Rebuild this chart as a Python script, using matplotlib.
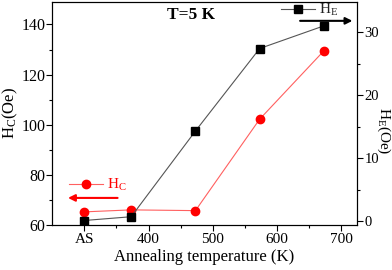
import numpy as np
import matplotlib.pyplot as plt

plt.rcParams['font.family'] = ['Liberation Serif', 'DejaVu Serif']
plt.rcParams['mathtext.fontset'] = 'custom'
plt.rcParams['mathtext.rm'] = 'Liberation Serif'
plt.rcParams['mathtext.it'] = 'Liberation Serif'

# data
temps = [300, 373, 473, 573, 673]
hc = [65.2, 66.0, 65.7, 102.2, 129.5]
he = [0.1, 0.7, 14.3, 27.4, 31.0]
xticks = [300, 400, 500, 600, 700]
xticklabels = ['AS', '400', '500', '600', '700']

fig = plt.figure(figsize=(3.92, 2.70), dpi=100)
ax = fig.add_axes([0.133, 0.167, 0.777, 0.826])
ax2 = ax.twinx()

l1, = ax.plot(temps, hc, color='#ff6060', lw=0.8, marker='o', ms=6,
              mfc='red', mec='red', label='H$_\\mathregular{C}$')
l2, = ax2.plot(temps, he, color='#555555', lw=0.8, marker='s', ms=5.5,
               mfc='black', mec='black', label='H$_\\mathregular{E}$')

ax.set_xlim(250, 724)
ax.set_ylim(60, 149)
ax2.set_ylim(-0.6, 34.8)

ax.set_xticks(xticks)
ax.set_xticklabels(xticklabels)
ax.set_xticks([350, 450, 550, 650], minor=True)
ax.set_yticks([60, 80, 100, 120, 140])
ax.set_yticks([70, 90, 110, 130], minor=True)
ax2.set_yticks([0, 10, 20, 30])
ax2.set_yticks([5, 15, 25], minor=True)

for a in (ax, ax2):
    a.tick_params(direction='out', labelsize=11.5, width=0.8, length=4)
    a.tick_params(which='minor', direction='out', width=0.8, length=2.5)
ax.tick_params(axis='x', labelsize=11, pad=2)
ax.tick_params(axis='y', pad=1)
ax2.tick_params(axis='y', labelsize=10.5, pad=1.5)

ax.set_xlabel('Annealing temperature (K)', fontsize=12, labelpad=2)
ax.set_ylabel('H$_\\mathregular{C}$(Oe)', fontsize=12, labelpad=1)
fig.text(0.979, 0.515, 'H$_\\mathregular{E}$(Oe)', fontsize=11, rotation=-90,
         ha='center', va='center')

ax.text(0.457, 0.94, 'T=5 K', transform=ax.transAxes, fontsize=12.5,
        fontweight='bold', ha='center', va='center')

leg2 = ax2.legend(handles=[l2], loc='upper right', frameon=False, fontsize=11,
                  handlelength=2.2, handletextpad=0.3,
                  bbox_to_anchor=(0.985, 1.06), labelcolor='#222222')
leg1 = ax.legend(handles=[l1], loc='center left', frameon=False, fontsize=11,
                 handlelength=2.2, handletextpad=0.3,
                 bbox_to_anchor=(0.01, 0.177), labelcolor='red')

ax2.annotate('', xy=(0.995, 0.915), xytext=(0.805, 0.915), xycoords='axes fraction',
             arrowprops=dict(arrowstyle='-|>', color='black', lw=1.5,
                             mutation_scale=10))
ax.annotate('', xy=(0.043, 0.121), xytext=(0.224, 0.121), xycoords='axes fraction',
            arrowprops=dict(arrowstyle='-|>', color='red', lw=1.5,
                            mutation_scale=10))

fig.savefig('out.png', dpi=100)
